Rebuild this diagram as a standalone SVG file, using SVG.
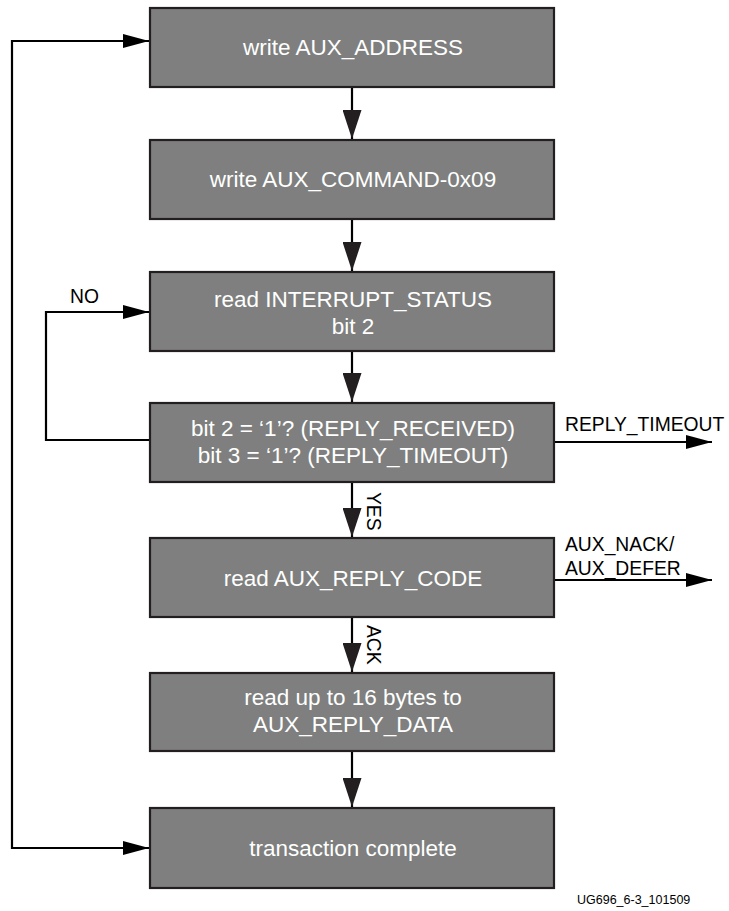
<svg xmlns="http://www.w3.org/2000/svg" width="729" height="911" viewBox="0 0 729 911">
<style>
.box{fill:#7e7f7e;stroke:#231f20;stroke-width:2.2}
.bt{font-family:"Liberation Sans",Arial,sans-serif;font-size:22.5px;fill:#ffffff;text-anchor:middle}
.lbl{font-family:"Liberation Sans",Arial,sans-serif;font-size:19.3px;fill:#000000}
.fig{font-family:"Liberation Sans",Arial,sans-serif;font-size:12.5px;fill:#000000}
.cn{fill:none;stroke:#000000;stroke-width:2.2}
</style>
<defs>
<marker id="ah" markerUnits="userSpaceOnUse" viewBox="0 0 26 14" markerWidth="26" markerHeight="14" refX="26" refY="7" orient="auto"><path d="M0,0 L26,7 L0,14 z" fill="#000"/></marker>
<marker id="av" markerUnits="userSpaceOnUse" viewBox="0 0 29 19" markerWidth="29" markerHeight="19" refX="29" refY="9.5" orient="auto"><path d="M0,0 L29,9.5 L0,19 z" fill="#231f20"/></marker>
</defs>
<rect width="729" height="911" fill="#ffffff"/>
<g id="n1"><rect class="box" x="150" y="8" width="404" height="79"/><text class="bt" x="353" y="55">write AUX_ADDRESS</text></g>
<g id="n2"><rect class="box" x="150" y="140" width="404" height="79"/><text class="bt" x="353" y="187">write AUX_COMMAND-0x09</text></g>
<g id="n3"><rect class="box" x="150" y="272" width="404" height="79"/><text class="bt" x="353" y="307">read INTERRUPT_STATUS</text><text class="bt" x="353" y="334">bit 2</text></g>
<g id="n4"><rect class="box" x="150" y="403" width="404" height="79"/><text class="bt" x="353" y="436">bit 2 = ‘1’? (REPLY_RECEIVED)</text><text class="bt" x="353" y="463">bit 3 = ‘1’? (REPLY_TIMEOUT)</text></g>
<g id="n5"><rect class="box" x="150" y="538" width="404" height="79"/><text class="bt" x="353" y="586">read AUX_REPLY_CODE</text></g>
<g id="n6"><rect class="box" x="150" y="673" width="404" height="78"/><text class="bt" x="353" y="705">read up to 16 bytes to</text><text class="bt" x="353" y="732">AUX_REPLY_DATA</text></g>
<g id="n7"><rect class="box" x="150" y="808" width="404" height="80"/><text class="bt" x="353" y="856">transaction complete</text></g>
<g id="connectors">
<path class="cn" d="M352,88 V139" marker-end="url(#av)"/>
<path class="cn" d="M352,220 V271" marker-end="url(#av)"/>
<path class="cn" d="M352,352 V402" marker-end="url(#av)"/>
<path class="cn" d="M352,483 V537" marker-end="url(#av)"/>
<path class="cn" d="M352,618 V672" marker-end="url(#av)"/>
<path class="cn" d="M352,752 V807" marker-end="url(#av)"/>
<path class="cn" d="M149,848 H12 V41 H149" marker-end="url(#ah)"/>
<path class="cn" d="M12,848 H149" marker-end="url(#ah)"/>
<path class="cn" d="M149,440 H46 V312 H149" marker-end="url(#ah)"/>
<path class="cn" d="M555,442 H712" marker-end="url(#ah)"/>
<path class="cn" d="M555,580 H712" marker-end="url(#ah)"/>
<text class="lbl" x="70" y="303">NO</text>
<text class="lbl" x="565" y="431">REPLY_TIMEOUT</text>
<text class="lbl" x="565" y="551">AUX_NACK/</text>
<text class="lbl" x="565" y="575">AUX_DEFER</text>
<text class="lbl" transform="translate(367,492) rotate(90)">YES</text>
<text class="lbl" transform="translate(367,625) rotate(90)">ACK</text>
</g>
<text class="fig" x="577" y="904">UG696_6-3_101509</text>
</svg>
